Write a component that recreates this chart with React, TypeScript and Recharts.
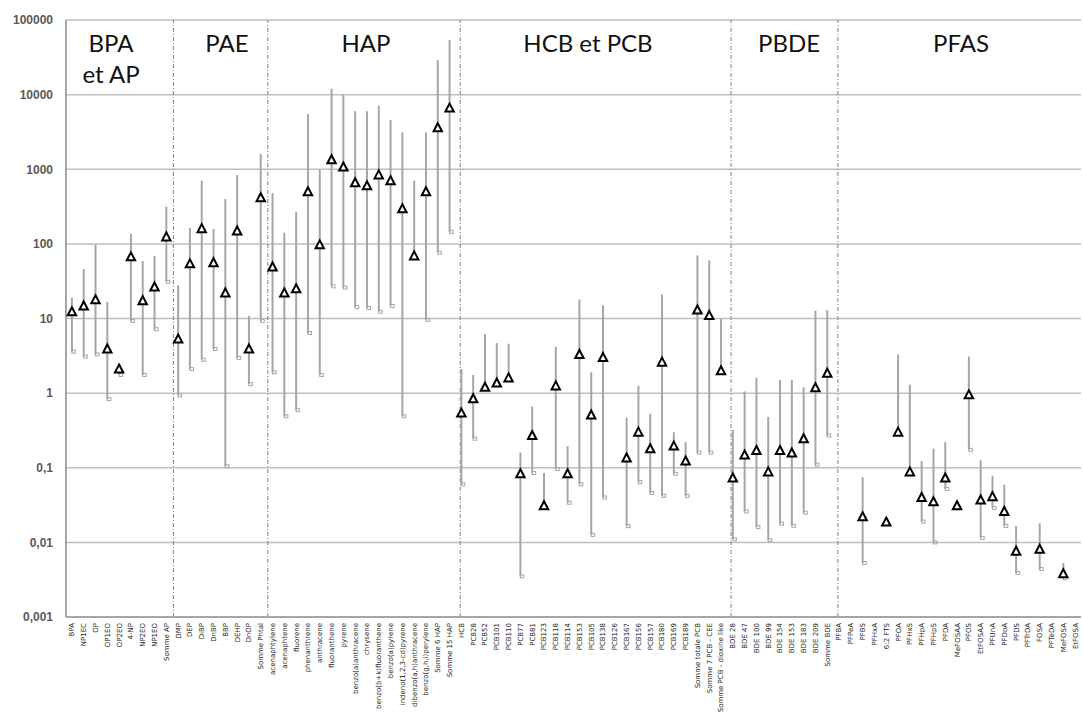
import React from "react";
import {
  ComposedChart,
  Scatter,
  XAxis,
  YAxis,
  CartesianGrid,
  ErrorBar,
  ReferenceLine,
} from "recharts";

// categories, in order along the x axis
const categories = [
  "BPA", "NP1EC", "OP", "OP1EO", "OP2EO", "4-NP", "NP2EO", "NP1EO", "Somme AP",
  "DMP", "DEP", "DiBP", "DnBP", "BBP", "DEHP", "DnOP", "Somme Phtal",
  "acenaphtylene", "acenaphtene", "fluorene", "phenanthrene", "anthracene",
  "fluoranthene", "pyrene", "benzo(a)anthracene", "chrysene",
  "benzo(b+k)fluoranthene", "benzo(a)pyrene", "indeno(1,2,3-cd)pyrene",
  "dibenzo(a,h)anthracene", "benzo(g,h,i)perylene", "Somme 6 HAP", "Somme 15 HAP",
  "HCB", "PCB28", "PCB52", "PCB101", "PCB110", "PCB77", "PCB81", "PCB123",
  "PCB118", "PCB114", "PCB153", "PCB105", "PCB138", "PCB126", "PCB167", "PCB156",
  "PCB157", "PCB180", "PCB169", "PCB189", "Somme totale PCB",
  "Somme 7 PCB - CEE", "Somme PCB - dioxine like",
  "BDE 28", "BDE 47", "BDE 100", "BDE 99", "BDE 154", "BDE 153", "BDE 183",
  "BDE 209", "Somme BDE",
  "PFBA", "PFPeA", "PFBS", "PFHxA", "6:2 FTS", "PFOA", "PFHxS", "PFHpA", "PFHpS",
  "PFDA", "MeFOSAA", "PFOS", "EtFOSAA", "PFUnA", "PFDoA", "PFDS", "PFTrDA",
  "FOSA", "PFTeDA", "MeFOSA", "EtFOSA",
];

// median (triangle), max and min (vertical line) per category
const medians = [
  12.3, 14.7, 17.8, 3.9, 2.1, 67, 17.3, 26.5, 124,
  5.3, 54, 160, 56, 22, 149, 3.9, 415,
  49, 22, 25, 500, 97, 1340, 1070, 660, 600, 840, 700, 295, 69, 500, 3600, 6600,
  0.54, 0.84, 1.2, 1.37, 1.6, 0.083, 0.27, 0.031, 1.25, 0.083, 3.3, 0.51, 3.0,
  null, 0.135, 0.3, 0.18, 2.6, 0.195, 0.123, 13, 11, 2.0,
  0.073, 0.148, 0.17, 0.088, 0.17, 0.158, 0.245, 1.18, 1.85,
  null, null, 0.022, null, 0.0187, 0.3, 0.088, 0.04, 0.035, 0.073, 0.031, 0.95,
  0.037, 0.041, 0.026, 0.0076, null, 0.0081, null, 0.0038, null,
];
const highs = [
  19, 46, 97, 16.7, 2.3, 136, 59, 69, 316,
  28, 163, 700, 158, 400, 840, 10.8, 1600,
  480, 141, 270, 5500, 980, 12000, 10000, 6000, 6000, 7100, 4600, 3100, 700, 3100,
  29000, 54000,
  2.1, 1.75, 6.2, 4.7, 4.6, 0.16, 0.66, 0.085, 4.2, 0.195, 18, 1.9, 15,
  null, 0.47, 1.26, 0.53, 21, 0.3, 0.22, 70, 60, 10,
  0.32, 1.05, 1.6, 0.48, 1.5, 1.5, 1.2, 12.7, 13,
  null, null, 0.075, null, 0.0187, 3.3, 1.3, 0.123, 0.18, 0.22, 0.031, 3.1,
  0.126, 0.078, 0.059, 0.0166, null, 0.018, null, 0.0053, null,
];
const lows = [
  3.6, 3.1, 3.3, 0.83, 1.75, 9.3, 1.75, 7.2, 31,
  0.93, 2.1, 2.8, 3.9, 0.105, 2.97, 1.32, 9.3,
  1.9, 0.49, 0.59, 6.4, 1.75, 27, 26, 14.3, 13.8, 12.3, 14.7, 0.49, 69, 9.6, 76, 145,
  0.06, 0.245, 1.2, 1.37, 1.6, 0.0035, 0.085, 0.031, 0.096, 0.034, 0.06, 0.0126,
  0.04, null, 0.0165, 0.064, 0.046, 0.042, 0.083, 0.042, 0.16, 0.16, 2.0,
  0.011, 0.026, 0.016, 0.0107, 0.0178, 0.0167, 0.025, 0.11, 0.27,
  null, null, 0.0053, null, 0.0187, 0.3, 0.088, 0.019, 0.01, 0.052, 0.031, 0.174,
  0.0115, 0.029, 0.0166, 0.0039, null, 0.0044, null, 0.0033, null,
];

const yTicks = [0.001, 0.01, 0.1, 1, 10, 100, 1000, 10000, 100000];

// group separators (positions in category units) and group titles
const separators = [8.6, 16.6, 32.9, 55.85, 64.9];
const groupTitles = [
  { lines: ["BPA", "et AP"], x: 111 },
  { lines: ["PAE"], x: 227 },
  { lines: ["HAP"], x: 366 },
  { lines: ["HCB et PCB"], x: 588 },
  { lines: ["PBDE"], x: 789 },
  { lines: ["PFAS"], x: 961 },
];

const rows = categories
  .map((name, i) => ({
    i,
    name,
    med: medians[i],
    hi: highs[i],
    lo: lows[i],
  }))
  .filter((r) => r.med != null)
  .map((r) => ({ ...r, err: [r.med - r.lo, r.hi - r.med] }));

const hookRows = rows.filter((r) => r.lo < r.med);

const fmtY = (v: number) => String(v).replace(".", ",");

const XTick = ({ x, y, payload }: any) => (
  <text
    x={x}
    y={y}
    transform={`rotate(-90 ${x} ${y})`}
    textAnchor="end"
    dx={-1}
    dy="0.35em"
    fontSize={7}
    fontFamily="DejaVu Sans"
    fill="#262626"
  >
    {categories[payload.value]}
  </text>
);

const Triangle = ({ cx, cy }: any) => (
  <path
    d={`M${cx},${cy - 4.5} L${cx + 4.2},${cy + 3.5} L${cx - 4.2},${cy + 3.5} Z`}
    fill="#fff"
    stroke="#000"
    strokeWidth={2}
  />
);

const Hook = ({ cx, cy }: any) => (
  <rect x={cx} y={cy - 1.5} width={3.5} height={3} fill="none" stroke="#a6a6a6" strokeWidth={1} />
);

const Nothing = () => <g />;

export default function App() {
  return (
    <div style={{ position: "relative", width: 1083, height: 716, background: "#fff" }}>
      <style>{"body{margin:0}"}</style>
      <ComposedChart
        width={1083}
        height={716}
        margin={{ top: 20, right: 2, bottom: 0, left: 0 }}
      >
        <CartesianGrid vertical={false} stroke="#bfbfbf" strokeWidth={1.5} />
        <XAxis
          type="number"
          dataKey="i"
          domain={[-0.5, 85.5]}
          ticks={categories.map((_, i) => i)}
          interval={0}
          tick={<XTick />}
          tickLine={false}
          tickSize={0}
          tickMargin={5}
          axisLine={{ stroke: "#a6a6a6", strokeWidth: 2 }}
          height={99}
          allowDataOverflow
        />
        <YAxis
          type="number"
          scale="log"
          domain={[0.001, 100000]}
          ticks={yTicks}
          interval={0}
          allowDataOverflow
          width={66}
          tickFormatter={fmtY}
          tick={{ fill: "#595959", fontSize: 12, fontWeight: 700, fontFamily: "Liberation Sans" }}
          tickLine={false}
          tickMargin={7}
          axisLine={{ stroke: "#a6a6a6", strokeWidth: 2 }}
        />
        {separators.map((s) => (
          <ReferenceLine key={s} x={s} stroke="#7f7f7f" strokeWidth={1} strokeDasharray="4 2 1 2" />
        ))}
        <Scatter data={rows} dataKey="med" isAnimationActive={false} shape={Nothing}>
          <ErrorBar dataKey="err" direction="y" width={0} stroke="#a6a6a6" strokeWidth={2} />
        </Scatter>
        <Scatter data={hookRows} dataKey="lo" isAnimationActive={false} shape={Hook} />
        <Scatter data={rows} dataKey="med" isAnimationActive={false} shape={Triangle} />
      </ComposedChart>
      <svg
        width={1083}
        height={716}
        style={{ position: "absolute", left: 0, top: 0, pointerEvents: "none" }}
      >
        {groupTitles.map((g) =>
          g.lines.map((line, k) => (
            <text
              key={g.x + line}
              x={g.x}
              y={52 + k * 31}
              textAnchor="middle"
              fontFamily="Lato"
              fontSize={24}
              fill="#111"
            >
              {line}
            </text>
          ))
        )}
      </svg>
    </div>
  );
}
